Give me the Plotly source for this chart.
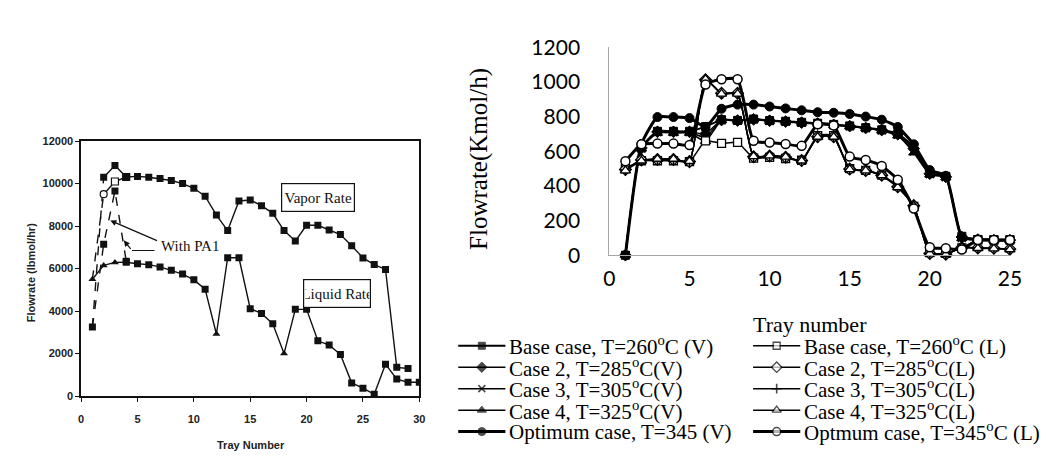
import plotly.graph_objects as go

W, H = 1048, 457

# ---------------- Left (scanned) chart data ----------------
left_trays = list(range(1, 31))
left_liquid = [5500, 6150, 6290, 6300, 6230, 6185, 6080, 5920, 5740, 5470,
               5030, 2920, 6510, 6510, 4110, 3890, 3400, 2000, 4080, 4080,
               2600, 2400, 1960, 620, 370, 80, 1500, 800, 650, 650]
left_liquid_triangle_trays = [1, 2, 3, 12, 18]
left_vapor_trays = list(range(2, 30))
left_vapor = [10300, 10850, 10310, 10340, 10300, 10235, 10145, 10000, 9780, 9410,
              8520, 7790, 9180, 9230, 8960, 8600, 7790, 7300, 8040, 8040,
              7820, 7600, 7080, 6500, 6190, 5960, 1350, 1300]
pa1_liquid_trays = [1, 2, 3, 4]
pa1_liquid = [3250, 7150, 9650, 6350]
pa1_vapor_trays = [1, 2]
pa1_vapor = [3250, 10300]
nopa_lead_trays = [1, 2]
nopa_lead = [5500, 9500]
nopa_vapor_trays = [2, 3, 4]
nopa_vapor = [9500, 10100, 10310]
left_xticks = [0, 5, 10, 15, 20, 25, 30]
left_yticks = [0, 2000, 4000, 6000, 8000, 10000, 12000]

# ---------------- Right chart data ----------------
trays = list(range(1, 26))
base_V = [0, 620, 715, 715, 715, 742, 782, 778, 786, 777, 773, 767, 762, 755, 746, 736, 724, 700, 627, 473, 455, 109, 91, 88, 88]
case2_V = [0, 618, 712, 712, 712, 700, 780, 777, 784, 776, 771, 765, 760, 752, 745, 734, 722, 698, 615, 470, 452, 105, 90, 87, 87]
case3_V = [0, 616, 710, 710, 710, 680, 779, 776, 783, 775, 770, 764, 758, 750, 744, 733, 720, 695, 600, 468, 450, 100, 90, 87, 87]
case4_V = [0, 614, 705, 705, 705, 658, 778, 775, 782, 774, 769, 763, 757, 749, 743, 732, 718, 690, 591, 465, 448, 98, 89, 86, 86]
opt_V = [0, 640, 797, 797, 791, 740, 845, 869, 869, 858, 847, 836, 825, 822, 815, 800, 782, 740, 640, 491, 458, 104, 91, 86, 86]
base_L = [500, 545, 545, 545, 540, 660, 645, 651, 560, 565, 558, 548, 690, 690, 500, 490, 462, 400, 282, 15, 10, 42, 88, 88, 88]
case2_L = [495, 550, 552, 552, 540, 1012, 935, 935, 568, 572, 565, 546, 684, 684, 497, 489, 461, 395, 286, 10, 6, 44, 42, 40, 35]
case3_L = [492, 548, 553, 553, 541, 1013, 933, 933, 569, 574, 566, 545, 683, 683, 496, 488, 460, 393, 285, 9, 5, 45, 41, 39, 34]
case4_L = [488, 545, 555, 555, 542, 1015, 931, 931, 570, 575, 567, 545, 682, 682, 495, 488, 460, 391, 285, 9, 4, 46, 40, 38, 33]
opt_L = [542, 640, 644, 644, 636, 985, 1015, 1015, 660, 650, 642, 631, 755, 749, 569, 549, 515, 436, 269, 46, 40, 33, 88, 88, 88]
right_xticks = [0, 5, 10, 15, 20, 25]
right_yticks = [0, 200, 400, 600, 800, 1000, 1200]

V_names = ["Base case, T=260<sup>o</sup>C (V)", "Case 2, T=285<sup>o</sup>C(V)",
           "Case 3, T=305<sup>o</sup>C(V)", "Case 4, T=325<sup>o</sup>C(V)",
           "Optimum case, T=345 (V)"]
L_names = ["Base case, T=260<sup>o</sup>C (L)", "Case 2, T=285<sup>o</sup>C(L)",
           "Case 3, T=305<sup>o</sup>C(L)", "Case 4, T=325<sup>o</sup>C(L)",
           "Optmum case, T=345<sup>o</sup>C (L)"]

# ---------------- styles ----------------
def px_x(p):
    return p / W

def px_y(p):
    return 1 - p / H

SERIF = "Liberation Serif, Times New Roman, serif"
SANS = "Liberation Sans, Arial, sans-serif"
RFONT = "Lato, Calibri, sans-serif"

V_styles = [
    dict(symbol="square", color="black", size=8, lw=1, lc="black", width=2.0),
    dict(symbol="diamond", color="black", size=9, lw=1, lc="black", width=1.5),
    dict(symbol="x-thin", color="black", size=8, lw=1.6, lc="black", width=1.5),
    dict(symbol="triangle-up", color="black", size=9, lw=1, lc="black", width=1.5),
    dict(symbol="circle", color="black", size=9, lw=1, lc="black", width=3.0),
]
L_styles = [
    dict(symbol="square", color="white", size=8, lw=1.3, lc="black", width=1.5),
    dict(symbol="diamond", color="white", size=9, lw=1.3, lc="black", width=1.5),
    dict(symbol="cross-thin", color="black", size=8, lw=1.6, lc="black", width=1.5),
    dict(symbol="triangle-up", color="white", size=9, lw=1.3, lc="black", width=1.5),
    dict(symbol="circle", color="white", size=9, lw=1.5, lc="black", width=3.0),
]
V_data = [base_V, case2_V, case3_V, case4_V, opt_V]
L_data = [base_L, case2_L, case3_L, case4_L, opt_L]

fig = go.Figure()

# ---------------- Left chart traces ----------------
liq_symbols = ["triangle-up" if t in left_liquid_triangle_trays else "square" for t in left_trays]
common_left = dict(xaxis="x", yaxis="y", showlegend=False)
fig.add_trace(go.Scatter(x=pa1_vapor_trays, y=pa1_vapor, mode="lines",
                         line=dict(color="#111", width=1.4, dash="dash"), **common_left))
fig.add_trace(go.Scatter(x=nopa_lead_trays, y=nopa_lead, mode="lines",
                         line=dict(color="#111", width=1.4, dash="dash"), **common_left))
fig.add_trace(go.Scatter(x=pa1_liquid_trays, y=pa1_liquid, mode="lines+markers",
                         line=dict(color="#111", width=1.4, dash="dash"),
                         marker=dict(symbol="square", size=7, color="#111"), **common_left))
fig.add_trace(go.Scatter(x=nopa_vapor_trays, y=nopa_vapor, mode="lines+markers",
                         line=dict(color="#111", width=1.4),
                         marker=dict(symbol=["circle", "square", "square"], size=7,
                                     color=["white", "white", "#111"],
                                     line=dict(color="#111", width=1.2)), **common_left))
fig.add_trace(go.Scatter(x=left_vapor_trays, y=left_vapor, mode="lines+markers",
                         line=dict(color="#111", width=1.4),
                         marker=dict(symbol="square", size=7, color="#111"), **common_left))
fig.add_trace(go.Scatter(x=left_trays, y=left_liquid, mode="lines+markers",
                         line=dict(color="#111", width=1.4),
                         marker=dict(symbol=liq_symbols, size=7, color="#111"), **common_left))

# ---------------- Right chart traces ----------------
draw_order = [("V", 1), ("V", 2), ("V", 3), ("V", 4), ("V", 0),
              ("L", 0), ("L", 1), ("L", 2), ("L", 3), ("L", 4)]
for kind, i in draw_order:
    st = V_styles[i] if kind == "V" else L_styles[i]
    ys = V_data[i] if kind == "V" else L_data[i]
    fig.add_trace(go.Scatter(
        x=trays, y=ys, mode="lines+markers",
        line=dict(color="black", width=st["width"], shape="spline", smoothing=0.5),
        marker=dict(symbol=st["symbol"], size=st["size"], color=st["color"],
                    line=dict(color=st["lc"], width=st["lw"])),
        cliponaxis=False, xaxis="x2", yaxis="y2", showlegend=False))

# ---------------- Manual legend (pixel overlay axis) ----------------
row0, row_step = 342.5, 22.7
col_x = [452, 752]
sample_len = 48
annotations = []
for c, (names, styles) in enumerate([(V_names, V_styles), (L_names, L_styles)]):
    for r, (nm, st) in enumerate(zip(names, styles)):
        yy = row0 + r * row_step
        x0 = col_x[c]
        fig.add_trace(go.Scatter(
            x=[x0, x0 + sample_len / 2, x0 + sample_len], y=[yy, yy, yy],
            mode="lines+markers",
            line=dict(color="black", width=st["width"]),
            marker=dict(symbol=st["symbol"], size=[0, st["size"] - 1, 0], color=st["color"],
                        line=dict(color=st["lc"], width=st["lw"])),
            cliponaxis=False, xaxis="x3", yaxis="y3", showlegend=False))
        annotations.append(dict(x=px_x(x0 + sample_len + 2), y=px_y(yy), xref="paper", yref="paper",
                                text=nm, showarrow=False, xanchor="left", yanchor="middle",
                                font=dict(family=SERIF, size=21, color="black")))

# ---------------- Left chart annotations ----------------
annotations += [
    dict(x=21.05, y=9330, xref="x", yref="y", text="Vapor Rate", showarrow=False,
         font=dict(family=SERIF, size=15, color="#111"), bordercolor="#111", borderwidth=1.2,
         bgcolor="white", width=70, height=25),
    dict(x=22.73, y=4837, xref="x", yref="y", text="Liquid Rate", showarrow=False,
         font=dict(family=SERIF, size=15, color="#111"), bordercolor="#111", borderwidth=1.2,
         bgcolor="white", width=64, height=25),
    dict(x=9.67, y=7062, xref="x", yref="y", text="With PA1", showarrow=False,
         font=dict(family=SERIF, size=15, color="#111")),
    dict(x=2.59, y=8262, xref="x", yref="y", ax=6.86, ay=7284, axref="x", ayref="y",
         text="", showarrow=True, arrowhead=2, arrowsize=1, arrowwidth=1.2, arrowcolor="#111"),
    dict(x=3.78, y=7328, xref="x", yref="y", ax=4.51, ay=6852, axref="x", ayref="y",
         text="", showarrow=True, arrowhead=2, arrowsize=1, arrowwidth=1.2, arrowcolor="#111"),
    # left axis titles
    dict(x=px_x(17), y=px_y(265), xref="paper", yref="paper", text="<b>Flowrate (lbmol/hr)</b>",
         textangle=-90, showarrow=False, xanchor="center", yanchor="middle",
         font=dict(family=SANS, size=11, color="#222")),
    dict(x=px_x(241), y=px_y(447), xref="paper", yref="paper", text="<b>Tray Number</b>",
         showarrow=False, xanchor="center", yanchor="middle",
         font=dict(family=SANS, size=11, color="#222")),
    # right axis titles
    dict(x=px_x(473), y=px_y(145), xref="paper", yref="paper", text="Flowrate(Kmol/h)",
         textangle=-90, showarrow=False, xanchor="center", yanchor="middle",
         font=dict(family=SERIF, size=25, color="black")),
    dict(x=px_x(810), y=px_y(320), xref="paper", yref="paper", text="Tray number",
         showarrow=False, xanchor="center", yanchor="middle",
         font=dict(family=SERIF, size=22, color="black")),
]

shapes = [dict(type="line", xref="x", yref="y", x0=4.51, y0=6852, x1=6.51, y1=6852,
               line=dict(color="#111", width=1.2))]

fig.update_layout(
    width=W, height=H, margin=dict(l=0, r=0, t=0, b=0),
    paper_bgcolor="white", plot_bgcolor="rgba(0,0,0,0)",
    showlegend=False,
    xaxis=dict(domain=[px_x(68.3), px_x(412.4)], range=[0, 30], tickvals=left_xticks,
               showline=True, mirror=True, linecolor="#111", linewidth=1.5,
               ticks="outside", ticklen=4, tickwidth=1.3, tickcolor="#111",
               showgrid=False, zeroline=False, anchor="y", tickformat="d",
               ticklabelstandoff=8,
               tickfont=dict(family=SANS, size=11, color="#222", weight="bold")),
    yaxis=dict(domain=[px_y(395.7), px_y(126)], range=[0, 12000], tickvals=left_yticks,
               showline=True, mirror=True, linecolor="#111", linewidth=1.5,
               ticks="outside", ticklen=4, tickwidth=1.3, tickcolor="#111",
               showgrid=False, zeroline=False, anchor="x", tickformat="d",
               tickfont=dict(family=SANS, size=11, color="#222", weight="bold")),
    xaxis2=dict(domain=[px_x(605.8), px_x(1013.3)], range=[0, 25], tickvals=right_xticks,
                showline=True, linecolor="#a6a6a6", linewidth=1.2, ticks="",
                showgrid=False, zeroline=False, anchor="y2", ticklabelstandoff=4,
                tickfont=dict(family=RFONT, size=21, color="black")),
    yaxis2=dict(domain=[px_y(246.7), px_y(26.7)], range=[0, 1200], tickvals=right_yticks,
                showline=True, linecolor="#a6a6a6", linewidth=1.2, ticks="",
                showgrid=False, zeroline=False, anchor="x2", ticklabelstandoff=24,
                tickfont=dict(family=RFONT, size=21, color="black")),
    xaxis3=dict(domain=[0, 1], range=[0, W], visible=False, anchor="y3", fixedrange=True),
    yaxis3=dict(domain=[0, 1], range=[H, 0], visible=False, anchor="x3", fixedrange=True),
    annotations=annotations, shapes=shapes,
)

fig.write_html("out.html")
